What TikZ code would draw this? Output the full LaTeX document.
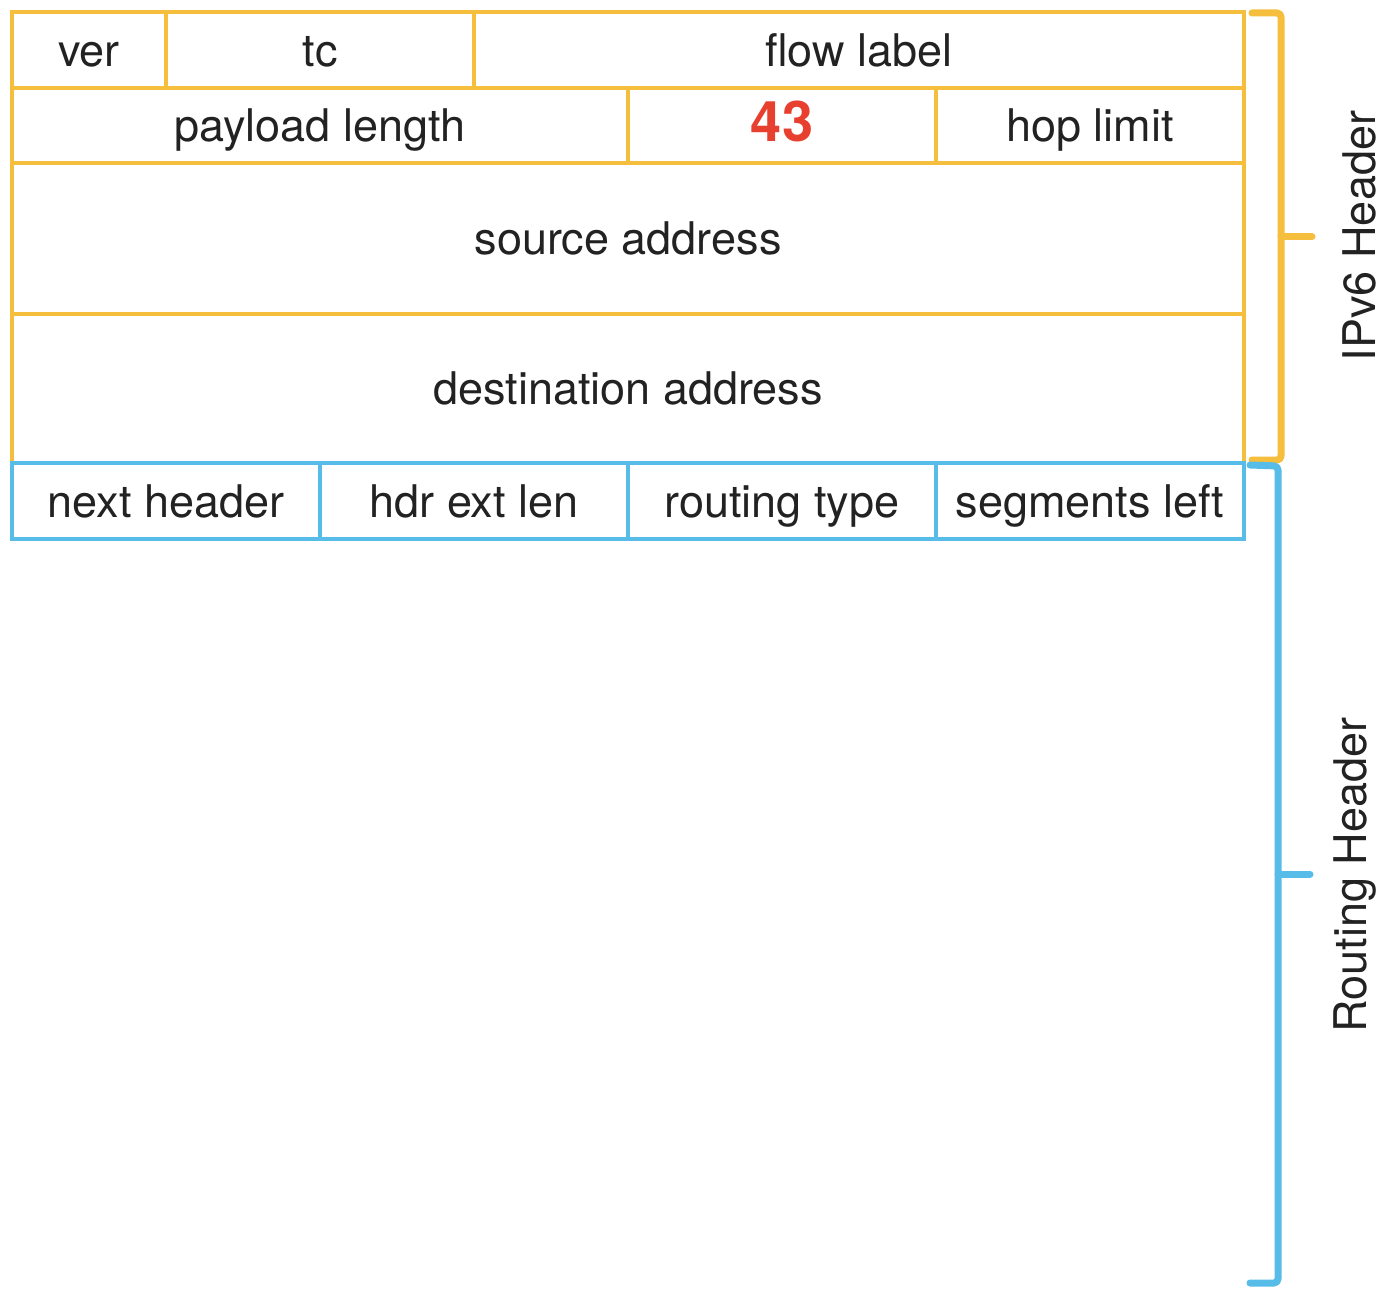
\documentclass[tikz,border=0pt]{standalone}
\usepackage{fontspec}
\setmainfont{TeX Gyre Heros}
\definecolor{hdryellow}{HTML}{F5BE3C}
\definecolor{hdrblue}{HTML}{58BCE8}
\definecolor{hdrred}{HTML}{E8402F}
\definecolor{hdrtext}{HTML}{222222}
% A field of the header layout, given by its corners (x1,y1) and (x2,y2)
\newcommand\hdrfield[7]{%
  \node[field, draw=#7,
        minimum width={(#4-#2)*0.5pt}, minimum height={(#5-#3)*0.5pt}]
        (#1) at ({(#2+#4)/2},{(#3+#5)/2}) {#6};}
\begin{document}
\begin{tikzpicture}[x=0.5pt, y=-0.5pt,
  field/.style={rectangle, line width=1.6pt, inner sep=0pt, outer sep=0pt,
    text=hdrtext, font=\fontsize{22.5}{26}\selectfont,
    text height=16.2pt, text depth=0pt},
  bracket/.style={line width=3.5pt, rounded corners=2pt, line cap=round, line join=round},
  side/.style={rotate=90, text=hdrtext, font=\fontsize{22.5}{26}\selectfont,
    inner sep=0pt, text height=16.2pt, text depth=0pt}]
\useasboundingbox (0,0) rectangle (1386,1289);

% IPv6 header
\hdrfield{ver}{12}{12}{166}{88}{ver}{hdryellow}
\hdrfield{tc}{166}{12}{474}{88}{tc}{hdryellow}
\hdrfield{flow}{474}{12}{1244}{88}{flow label}{hdryellow}
\hdrfield{plen}{12}{88}{628}{163}{payload length}{hdryellow}
\hdrfield{nh}{628}{88}{936}{163}{\fontsize{28}{32}\selectfont\bfseries\color{hdrred}43}{hdryellow}
\hdrfield{hop}{936}{88}{1244}{163}{hop limit}{hdryellow}
\hdrfield{src}{12}{163}{1244}{314}{source address}{hdryellow}
\hdrfield{dst}{12}{314}{1244}{463}{destination address}{hdryellow}

% Routing header
\hdrfield{rnh}{12}{463}{320}{539}{next header}{hdrblue}
\hdrfield{hel}{320}{463}{628}{539}{hdr ext len}{hdrblue}
\hdrfield{rtype}{628}{463}{936}{539}{routing type}{hdrblue}
\hdrfield{segl}{936}{463}{1244}{539}{segments left}{hdrblue}

% Brackets
\draw[bracket, hdryellow] (1252,13) -- (1281,13) -- (1281,460) -- (1252,460);
\draw[bracket, hdryellow] (1281,237) -- (1312,237);
\draw[bracket, hdrblue] (1250,465) -- (1278,466) -- (1278,1283) -- (1250,1283);
\draw[bracket, hdrblue] (1278,874) -- (1310,874);

\node[side] (ipv6lbl) at (1359,236) {IPv6 Header};
\node[side] (rtlbl) at (1350,875) {Routing Header};
\end{tikzpicture}
\end{document}
